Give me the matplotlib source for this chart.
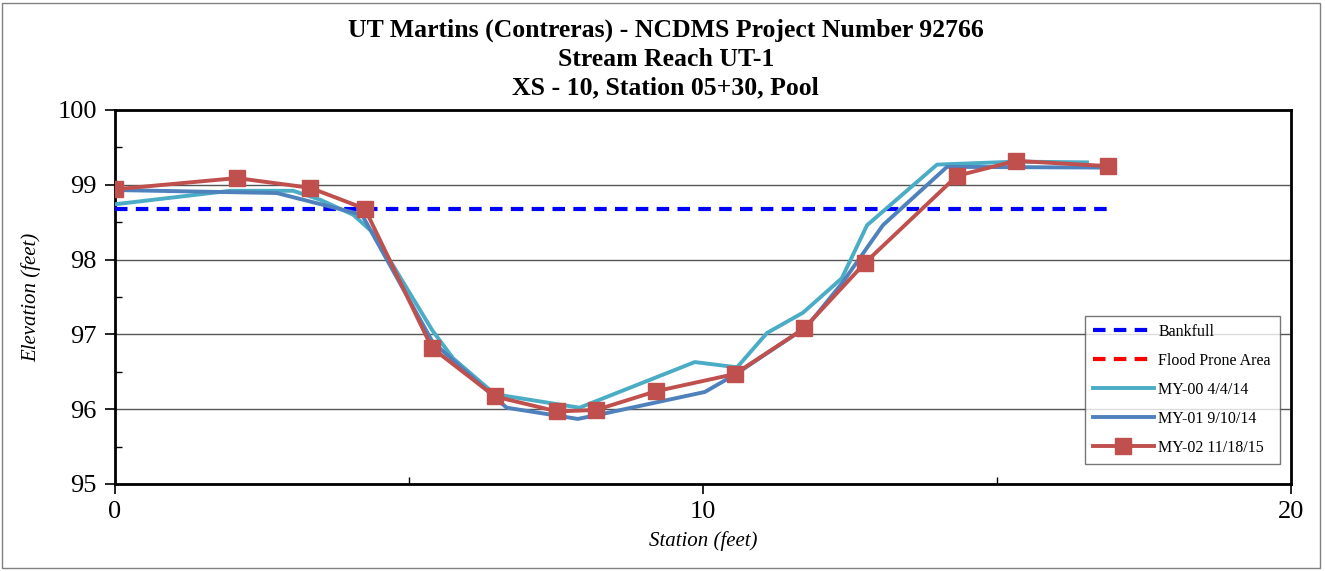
import matplotlib
matplotlib.use("Agg")
import matplotlib.pyplot as plt
from matplotlib.patches import Rectangle
from matplotlib.ticker import MultipleLocator

plt.rcParams['font.family'] = ['Liberation Serif', 'DejaVu Serif']

# Data
bankfull_x = [0.0, 16.95]
bankfull_y = [98.68, 98.68]

my00_x = [0.0, 1.96, 3.03, 3.49, 4.05, 4.39, 5.4, 5.75, 6.46, 7.9, 9.86, 10.58, 11.09, 11.7, 12.36, 12.79, 13.98, 15.34, 16.53]
my00_y = [98.74, 98.92, 98.92, 98.8, 98.6, 98.36, 97.05, 96.68, 96.2, 96.02, 96.63, 96.56, 97.02, 97.29, 97.75, 98.46, 99.27, 99.31, 99.3]

my01_x = [0.0, 2.75, 4.2, 5.4, 6.66, 7.87, 8.25, 10.03, 10.54, 11.76, 12.37, 13.06, 14.15, 16.92]
my01_y = [98.93, 98.89, 98.6, 96.9, 96.02, 95.87, 95.93, 96.23, 96.46, 97.1, 97.69, 98.46, 99.24, 99.23]

my02_x = [0.0, 2.07, 3.32, 4.25, 5.39, 6.46, 7.52, 8.18, 9.2, 10.54, 11.72, 12.76, 14.32, 15.32, 16.89]
my02_y = [98.94, 99.09, 98.96, 98.68, 96.82, 96.17, 95.97, 95.99, 96.24, 96.47, 97.08, 97.96, 99.12, 99.32, 99.25]

title_lines = ["UT Martins (Contreras) - NCDMS Project Number 92766",
               "Stream Reach UT-1",
               "XS - 10, Station 05+30, Pool"]

fig = plt.figure(figsize=(13.25, 5.71), dpi=100)
ax = fig.add_axes([115/1325, 1-484/571, (1291-115)/1325, (484-110)/571])

# figure border
fig.patches.append(Rectangle((2/1325, 3/571), 1318/1325, 565/571, transform=fig.transFigure,
                             fill=False, edgecolor='#808080', linewidth=1.0))

ax.yaxis.grid(True, which='major', color='#555555', linewidth=1.0)
ax.set_axisbelow(True)

ax.plot(bankfull_x, bankfull_y, color='#0000FF', linestyle=(0, (3, 2)), linewidth=3.0, label='Bankfull', zorder=3)
ax.plot([], [], color='#FF0000', linestyle=(0, (3, 2)), linewidth=3.0, label='Flood Prone Area')
ax.plot(my00_x, my00_y, color='#4BACC6', linewidth=2.8, label='MY-00 4/4/14', zorder=4)
ax.plot(my01_x, my01_y, color='#4F81BD', linewidth=2.8, label='MY-01 9/10/14', zorder=5)
ax.plot(my02_x, my02_y, color='#C0504D', linewidth=2.8, marker='s', markersize=11,
        label='MY-02 11/18/15', zorder=6)

ax.set_xlim(0, 20)
ax.set_ylim(95, 100)
ax.xaxis.set_major_locator(MultipleLocator(10))
ax.xaxis.set_minor_locator(MultipleLocator(5))
ax.yaxis.set_major_locator(MultipleLocator(1))
ax.yaxis.set_minor_locator(MultipleLocator(0.5))
ax.tick_params(which='major', direction='out', length=7, width=1.2, labelsize=19, colors='black')
ax.tick_params(which='minor', direction='in', length=5, width=1.0)
ax.tick_params(axis='x', pad=5)
ax.tick_params(axis='y', pad=6)

for s in ax.spines.values():
    s.set_linewidth(2.0)
    s.set_color('black')

ax.set_xlabel('Station (feet)', fontsize=15, style='italic', labelpad=6)
ax.set_ylabel('Elevation (feet)', fontsize=15, style='italic', labelpad=12)

for i, t in enumerate(title_lines):
    fig.text(0.5025, 1 - (30 + 29*i)/571, t, ha='center', va='center',
             fontsize=18.5, fontweight='bold')

leg = ax.legend(loc='lower right', bbox_to_anchor=((1085-115)/1176, (484-464)/374, (1280-1085)/1176, (464-320)/374),
                mode='expand', fontsize=11.5, frameon=True, fancybox=False, edgecolor='#555555',
                borderaxespad=0, borderpad=0.5, handlelength=3.8, labelspacing=0.82, handletextpad=0.3)
leg.get_frame().set_linewidth(1.0)

fig.savefig('out.png', dpi=100)
